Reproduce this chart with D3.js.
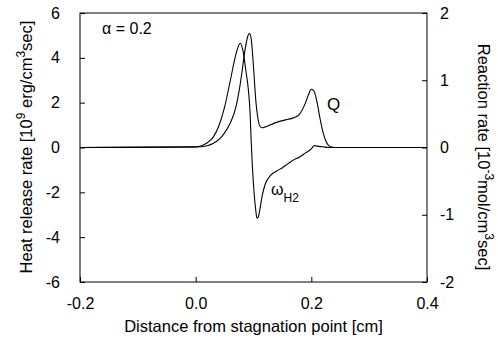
<!DOCTYPE html>
<html>
<head>
<meta charset="utf-8">
<script src="https://cdn.jsdelivr.net/npm/d3@7"></script>
<style>
  body { margin: 0; background: #fff; }
  svg { display: block; }
  text { font-family: "Liberation Sans", Arial, Helvetica, sans-serif; fill: #000; }
</style>
</head>
<body>
<svg id="chart" width="498" height="340"></svg>
<script>
// heat release rate Q [10^9 erg/cm^3 sec], left axis
const qX = [-0.2, 0.0, 0.02, 0.03, 0.04, 0.05, 0.06, 0.07, 0.075, 0.08, 0.085, 0.09, 0.093, 0.096,
            0.1, 0.104, 0.108, 0.111, 0.115, 0.12, 0.13, 0.14, 0.15, 0.16, 0.17, 0.18, 0.19,
            0.195, 0.2, 0.205, 0.21, 0.215, 0.22, 0.225, 0.23, 0.235, 0.24, 0.4];
const qY = [0, 0.02, 0.08, 0.18, 0.35, 0.65, 1.1, 1.85, 2.5, 3.35, 4.3, 4.95, 5.1, 4.85,
            3.6, 2.1, 1.25, 0.95, 0.88, 0.92, 1.02, 1.12, 1.2, 1.26, 1.33, 1.5, 2.0,
            2.35, 2.6, 2.5, 2.0, 1.3, 0.7, 0.3, 0.08, 0.02, 0, 0];

// H2 reaction rate [10^-3 mol/cm^3 sec], right axis
const wX = [-0.2, 0.0, 0.02, 0.03, 0.04, 0.05, 0.06, 0.07, 0.077, 0.082, 0.087, 0.091, 0.094, 0.096,
            0.098, 0.101, 0.104, 0.106, 0.108, 0.111, 0.115, 0.12, 0.13, 0.14, 0.15, 0.16, 0.17, 0.18,
            0.19, 0.2, 0.205, 0.21, 0.22, 0.23, 0.4];
const wY = [0, 0.01, 0.07, 0.15, 0.32, 0.6, 1.0, 1.4, 1.55, 1.43, 1.13, 0.87, 0.53, 0.1,
            -0.27, -0.67, -0.94, -1.05, -1.04, -0.92, -0.72, -0.55, -0.41, -0.35, -0.3, -0.24, -0.18, -0.14,
            -0.08, -0.02, 0.03, 0.02, 0.01, 0, 0];

const xTicks = [-0.2, 0.0, 0.2, 0.4];
const leftTicks = [-6, -4, -2, 0, 2, 4, 6];
const rightTicks = [-2, -1, 0, 1, 2];

const svg = d3.select("#chart");
const plotLeft = 80, plotRight = 427, plotTop = 13, plotBottom = 282;

const x = d3.scaleLinear().domain([-0.2, 0.4]).range([plotLeft, plotRight]);
const yL = d3.scaleLinear().domain([-6, 6]).range([plotBottom, plotTop]);
const yR = d3.scaleLinear().domain([-2, 2]).range([plotBottom, plotTop]);

// frame
svg.append("rect")
    .attr("x", plotLeft).attr("y", plotTop)
    .attr("width", plotRight - plotLeft).attr("height", plotBottom - plotTop)
    .attr("fill", "none").attr("stroke", "#000").attr("stroke-width", 1);

// axes, ticks pointing inward
const fmtX = d => d3.format(".1f")(d).replace("−", "-");
const fmtY = d => String(d);

const gx = svg.append("g").attr("transform", `translate(0,${plotBottom})`)
    .call(d3.axisBottom(x).tickValues(xTicks).tickSizeInner(-5).tickSizeOuter(0).tickPadding(16).tickFormat(fmtX));
const gl = svg.append("g").attr("transform", `translate(${plotLeft},0)`)
    .call(d3.axisLeft(yL).tickValues(leftTicks).tickSizeInner(-5).tickSizeOuter(0).tickPadding(20).tickFormat(fmtY));
const gr = svg.append("g").attr("transform", `translate(${plotRight},0)`)
    .call(d3.axisRight(yR).tickValues(rightTicks).tickSizeInner(-5).tickSizeOuter(0).tickPadding(17).tickFormat(fmtY));

[gx, gl, gr].forEach(g => {
    g.select(".domain").remove();
    g.selectAll("line").attr("stroke", "#000");
    g.selectAll("text").attr("font-size", 16).attr("font-family", "Liberation Sans, Arial, sans-serif");
});
gr.selectAll("text").attr("dx", -4);

// curves
const lineQ = d3.line().x(d => x(d[0])).y(d => yL(d[1])).curve(d3.curveMonotoneX);
const lineW = d3.line().x(d => x(d[0])).y(d => yR(d[1])).curve(d3.curveMonotoneX);

svg.append("path").datum(d3.zip(qX, qY)).attr("d", lineQ)
    .attr("fill", "none").attr("stroke", "#000").attr("stroke-width", 1.1);
svg.append("path").datum(d3.zip(wX, wY)).attr("d", lineW)
    .attr("fill", "none").attr("stroke", "#000").attr("stroke-width", 1.1);

// labels inside plot
svg.append("text").attr("x", 102).attr("y", 34).attr("font-size", 16).text("α = 0.2");
svg.append("text").attr("x", 327).attr("y", 110).attr("font-size", 17).text("Q");
const wl = svg.append("text").attr("x", 271).attr("y", 195).attr("font-size", 16);
wl.append("tspan").text("ω");
wl.append("tspan").attr("dy", 7).attr("font-size", 12).text("H2");

// axis titles
svg.append("text").attr("x", plotLeft + (plotRight - plotLeft) / 2).attr("y", 332)
    .attr("text-anchor", "middle").attr("font-size", 16.5)
    .text("Distance from stagnation point [cm]");

const lt = svg.append("text").attr("transform", "translate(32,147) rotate(-90)")
    .attr("text-anchor", "middle").attr("font-size", 16.5);
lt.append("tspan").text("Heat release rate [10");
lt.append("tspan").attr("dy", -7).attr("font-size", 12).text("9");
lt.append("tspan").attr("dy", 7).text(" erg/cm");
lt.append("tspan").attr("dy", -7).attr("font-size", 12).text("3");
lt.append("tspan").attr("dy", 7).text("sec]");

const rt = svg.append("text").attr("transform", "translate(478,157) rotate(90)")
    .attr("text-anchor", "middle").attr("font-size", 16.5);
rt.append("tspan").text("Reaction rate [10");
rt.append("tspan").attr("dy", -7).attr("font-size", 12).text("-3");
rt.append("tspan").attr("dy", 7).text("mol/cm");
rt.append("tspan").attr("dy", -7).attr("font-size", 12).text("3");
rt.append("tspan").attr("dy", 7).text("sec]");
</script>
</body>
</html>
